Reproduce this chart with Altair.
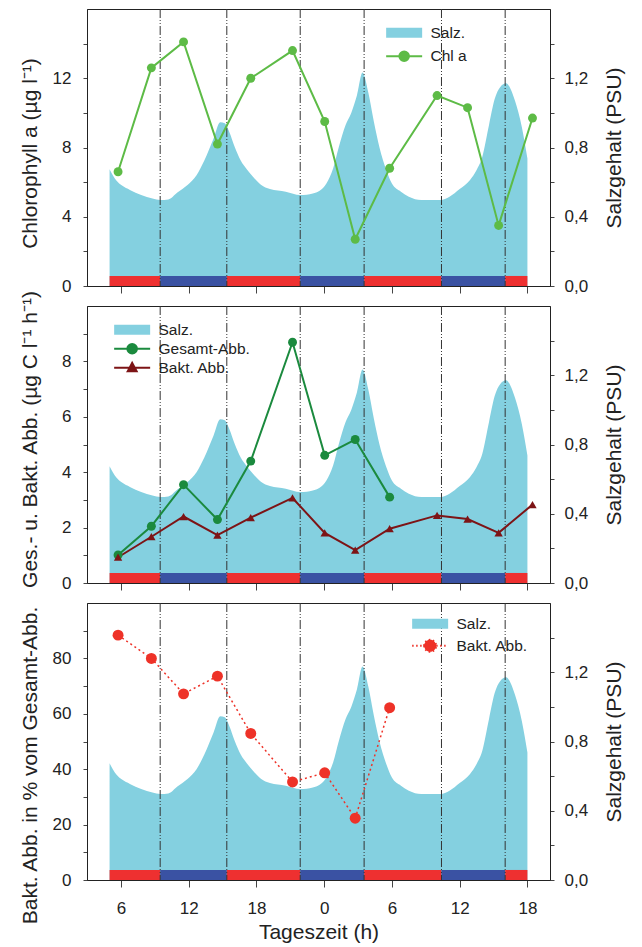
import altair as alt
import pandas as pd

FONT = "Liberation Sans"

# ---------------- data ----------------
sal_t = [5.0, 5.6, 6.1, 6.8, 7.8, 8.8, 9.5, 10.2, 11.0, 11.9, 12.7, 13.4, 14.2, 14.8, 15.2,
         15.6, 16.1, 16.6, 17.2, 17.7, 18.4, 19.2, 20.6, 21.9, 23.0, 23.6, 24.2, 24.8, 25.3,
         25.9, 26.4, 26.9, 27.4, 27.9, 28.4, 28.9, 29.5, 30.0, 30.8, 31.5, 32.6, 33.5, 34.3,
         35.1, 36.0, 36.9, 37.5, 38.0, 38.6, 39.1, 39.6, 40.1, 40.5, 40.9, 41.5, 42.0]
sal_v = [0.675, 0.61, 0.58, 0.555, 0.525, 0.505, 0.497, 0.50, 0.54, 0.583, 0.64, 0.726, 0.85,
         0.946, 0.94, 0.89, 0.80, 0.726, 0.67, 0.631, 0.585, 0.56, 0.545, 0.525, 0.535, 0.55,
         0.592, 0.68, 0.803, 0.93, 1.00, 1.10, 1.233, 1.12, 0.95, 0.80, 0.67, 0.592, 0.545,
         0.516, 0.497, 0.497, 0.497, 0.516, 0.56, 0.611, 0.67, 0.745, 0.93, 1.08, 1.15, 1.171,
         1.14, 1.07, 0.92, 0.736]

phase_start = [5.0, 9.48, 15.38, 21.88, 27.54, 34.39, 40.03]
phase_end = [9.48, 15.38, 21.88, 27.54, 34.39, 40.03, 42.0]
phase_kind = ["rot", "blau", "rot", "blau", "rot", "blau", "rot"]
bound_t = [9.48, 15.38, 21.88, 27.54, 34.39, 40.03]

samp_t = [5.75, 8.7, 11.55, 14.55, 17.5, 21.2, 24.05, 26.75, 29.8, 34.0, 36.7, 39.45, 42.45]
chl = [6.6, 12.6, 14.1, 8.2, 12.0, 13.6, 9.5, 2.7, 6.8, 11.0, 10.3, 3.5, 9.7]
ges_abb = [1.01, 2.05, 3.55, 2.29, 4.40, 8.69, 4.61, 5.18, 3.10]
bakt_abb = [0.93, 1.67, 2.40, 1.73, 2.36, 3.07, 1.81, 1.19, 1.96, 2.44, 2.31, 1.81, 2.83]
bakt_pct = [88.4, 80.0, 67.2, 73.6, 52.9, 35.4, 38.7, 22.3, 62.2]

x_ticks = [6, 12, 18, 24, 30, 36, 42]

# ---------------- styles ----------------
SAL_C = "#84d0e0"
RED_BAR = "#ee3030"
BLUE_BAR = "#3a52a3"
GREEN1 = "#5dbb46"
GREEN2 = "#1b8a3e"
DARKRED = "#7d1416"
RED3 = "#ee3228"
NONE = "rgba(0,0,0,0)"

XS = alt.Scale(domain=[3, 44], nice=False, zero=False)
YR = alt.Scale(domain=[0, 1.6], nice=False, zero=True)

sal_df = pd.DataFrame({"t": sal_t, "s": sal_v})
phase_df = pd.DataFrame({"a": phase_start, "b": phase_end, "k": phase_kind,
                         "y0": [0.0] * len(phase_kind), "y1": [0.058] * len(phase_kind)})
bound_df = pd.DataFrame({"t": bound_t})

RIGHT_AXIS = alt.Axis(
    orient="right", title="Salzgehalt (PSU)",
    values=[0, 0.2, 0.4, 0.6, 0.8, 1.0, 1.2, 1.4],
    labelExpr="round(datum.value*10) % 4 == 0 ? replace(format(datum.value, '.1f'), '.', ',') : ''",
    tickSize=4, labelPadding=10, titleAngle=270, titleBaseline="top", titlePadding=16,
)

RECT = "M-1.1,-0.83H4.9V0.83H-1.1Z"
LCIRC = "M-1.1,0H4.9M1.1,0A0.8,0.8 0 1,1 2.7,0A0.8,0.8 0 1,1 1.1,0Z"
LCIRC_BIG = "M-1.1,0H4.9M0.9,0A1.0,1.0 0 1,1 2.9,0A1.0,1.0 0 1,1 0.9,0Z"
LTRI = "M-1.1,0H4.9M1.15,0.6L1.9,-0.8L2.65,0.6Z"


def x_axis(last):
    if last:
        return alt.Axis(values=x_ticks, labelExpr="'' + (datum.value % 24)", title="Tageszeit (h)",
                        tickSize=7, labelPadding=13, titlePadding=5)
    return alt.Axis(values=x_ticks, labels=False, title=None, tickSize=7)


def left_axis(title, values, step, pad, ty):
    return alt.Axis(orient="left", title=title, values=values,
                    labelExpr=f"datum.value % {step} == 0 ? datum.label : ''",
                    tickSize=4, labelPadding=12, titlePadding=pad, titleY=ty)


def legend_layer(names, fills, strokes, shapes, lx, ly, dash=None, row_pad=4):
    kw = dict(orient="none", legendX=lx, legendY=ly, title=None, labelFontSize=15.5,
              symbolSize=144, symbolStrokeWidth=2, labelOffset=30, rowPadding=row_pad,
              padding=0, symbolOpacity=1, labelColor="#222")
    if dash:
        kw["symbolDash"] = dash
    leg = alt.Legend(**kw)
    df = pd.DataFrame({"n": names})
    return alt.Chart(df).mark_point(filled=True).encode(
        fill=alt.Fill("n:N", scale=alt.Scale(domain=names, range=fills), legend=leg),
        stroke=alt.Stroke("n:N", scale=alt.Scale(domain=names, range=strokes), legend=leg),
        shape=alt.Shape("n:N", scale=alt.Scale(domain=names, range=shapes), legend=leg),
    ).transform_filter("datum.n == 'keine'")


def make_panel(left_builder, leg, last):
    xa = x_axis(last)
    area = alt.Chart(sal_df).mark_area(color=SAL_C, interpolate="monotone").encode(
        x=alt.X("t:Q", scale=XS, axis=xa),
        y=alt.Y("s:Q", scale=YR, axis=RIGHT_AXIS),
    )
    bars = alt.Chart(phase_df).mark_rect().encode(
        x=alt.X("a:Q", scale=XS, axis=xa), x2="b:Q",
        y=alt.Y("y0:Q", scale=YR, axis=RIGHT_AXIS), y2="y1:Q",
        color=alt.Color("k:N", scale=alt.Scale(domain=["rot", "blau"], range=[RED_BAR, BLUE_BAR]),
                        legend=None),
    )
    rules = alt.Chart(bound_df).mark_rule(color="#333", strokeWidth=1,
                                          strokeDash=[9, 2, 1, 2, 1, 2]).encode(
        x=alt.X("t:Q", scale=XS, axis=xa))
    right = alt.layer(area, bars, rules)
    left = alt.layer(*left_builder(xa), leg)
    return alt.layer(right, left).resolve_scale(y="independent").properties(width=463, height=277)


# ---- panel 1 ----
chl_df = pd.DataFrame({"t": samp_t, "v": chl})
ys1 = alt.Scale(domain=[0, 16], nice=False)
ax1 = left_axis("Chlorophyll a (µg l⁻¹)", list(range(0, 16, 2)), 4, 12, 144)


def p1_layers(xa):
    line = alt.Chart(chl_df).mark_line(color=GREEN1, strokeWidth=2).encode(
        x=alt.X("t:Q", scale=XS, axis=xa), y=alt.Y("v:Q", scale=ys1, axis=ax1))
    pts = alt.Chart(chl_df).mark_circle(color=GREEN1, size=80, opacity=1).encode(
        x=alt.X("t:Q", scale=XS, axis=xa), y=alt.Y("v:Q", scale=ys1, axis=ax1))
    return [line, pts]


leg1 = legend_layer(["Salz.", "Chl a"], [SAL_C, GREEN1], [NONE, GREEN1], [RECT, LCIRC], 298, 16,
                    row_pad=4.5)
panel1 = make_panel(p1_layers, leg1, False)

# ---- panel 2 ----
ges_df = pd.DataFrame({"t": samp_t[:len(ges_abb)], "v": ges_abb})
bak_df = pd.DataFrame({"t": samp_t, "v": bakt_abb})
ys2 = alt.Scale(domain=[0, 10], nice=False)
ax2 = left_axis("Ges.- u. Bakt. Abb. (µg C l⁻¹ h⁻¹)", list(range(0, 10)), 2, 21, 133)


def p2_layers(xa):
    gl = alt.Chart(ges_df).mark_line(color=GREEN2, strokeWidth=2).encode(
        x=alt.X("t:Q", scale=XS, axis=xa), y=alt.Y("v:Q", scale=ys2, axis=ax2))
    gp = alt.Chart(ges_df).mark_circle(color=GREEN2, size=80, opacity=1).encode(
        x=alt.X("t:Q", scale=XS, axis=xa), y=alt.Y("v:Q", scale=ys2, axis=ax2))
    bl = alt.Chart(bak_df).mark_line(color=DARKRED, strokeWidth=2).encode(
        x=alt.X("t:Q", scale=XS, axis=xa), y=alt.Y("v:Q", scale=ys2, axis=ax2))
    bp = alt.Chart(bak_df).mark_point(shape="triangle-up", filled=True, color=DARKRED,
                                      size=70, opacity=1).encode(
        x=alt.X("t:Q", scale=XS, axis=xa), y=alt.Y("v:Q", scale=ys2, axis=ax2))
    return [gl, bl, gp, bp]


leg2 = legend_layer(["Salz.", "Gesamt-Abb.", "Bakt. Abb."], [SAL_C, GREEN2, DARKRED],
                    [NONE, GREEN2, DARKRED], [RECT, LCIRC, LTRI], 26, 16, row_pad=0)
panel2 = make_panel(p2_layers, leg2, False)

# ---- panel 3 ----
pct_df = pd.DataFrame({"t": samp_t[:len(bakt_pct)], "v": bakt_pct})
ys3 = alt.Scale(domain=[0, 100], nice=False)
ax3 = left_axis("Bakt. Abb. in % vom Gesamt-Abb.", list(range(0, 100, 10)), 20, 12, 162)


def p3_layers(xa):
    line = alt.Chart(pct_df).mark_line(color=RED3, strokeWidth=1.5, strokeDash=[2, 3]).encode(
        x=alt.X("t:Q", scale=XS, axis=xa), y=alt.Y("v:Q", scale=ys3, axis=ax3))
    pts = alt.Chart(pct_df).mark_circle(color=RED3, size=120, opacity=1).encode(
        x=alt.X("t:Q", scale=XS, axis=xa), y=alt.Y("v:Q", scale=ys3, axis=ax3))
    return [line, pts]


leg3 = legend_layer(["Salz.", "Bakt. Abb."], [SAL_C, RED3], [NONE, RED3], [RECT, LCIRC_BIG],
                    324, 13, dash=[1.5, 2.5], row_pad=2)
panel3 = make_panel(p3_layers, leg3, True)

chart = alt.vconcat(panel1, panel2, panel3, spacing=20, bounds="flush").resolve_scale(
    fill="independent", stroke="independent", shape="independent", color="independent"
).resolve_legend(fill="independent", stroke="independent", shape="independent").properties(
    padding={"left": 10, "top": 0, "right": 5, "bottom": 0}
).configure_view(stroke="#222", strokeWidth=1).configure_axis(
    labelFont=FONT, titleFont=FONT, labelFontSize=17, titleFontSize=21,
    titleFontWeight="normal", labelColor="#222", titleColor="#222",
    tickColor="#444", domainColor="#222", grid=False
).configure_legend(labelFont=FONT)

chart.save("out.html", embed_options={"renderer": "svg", "actions": False})
